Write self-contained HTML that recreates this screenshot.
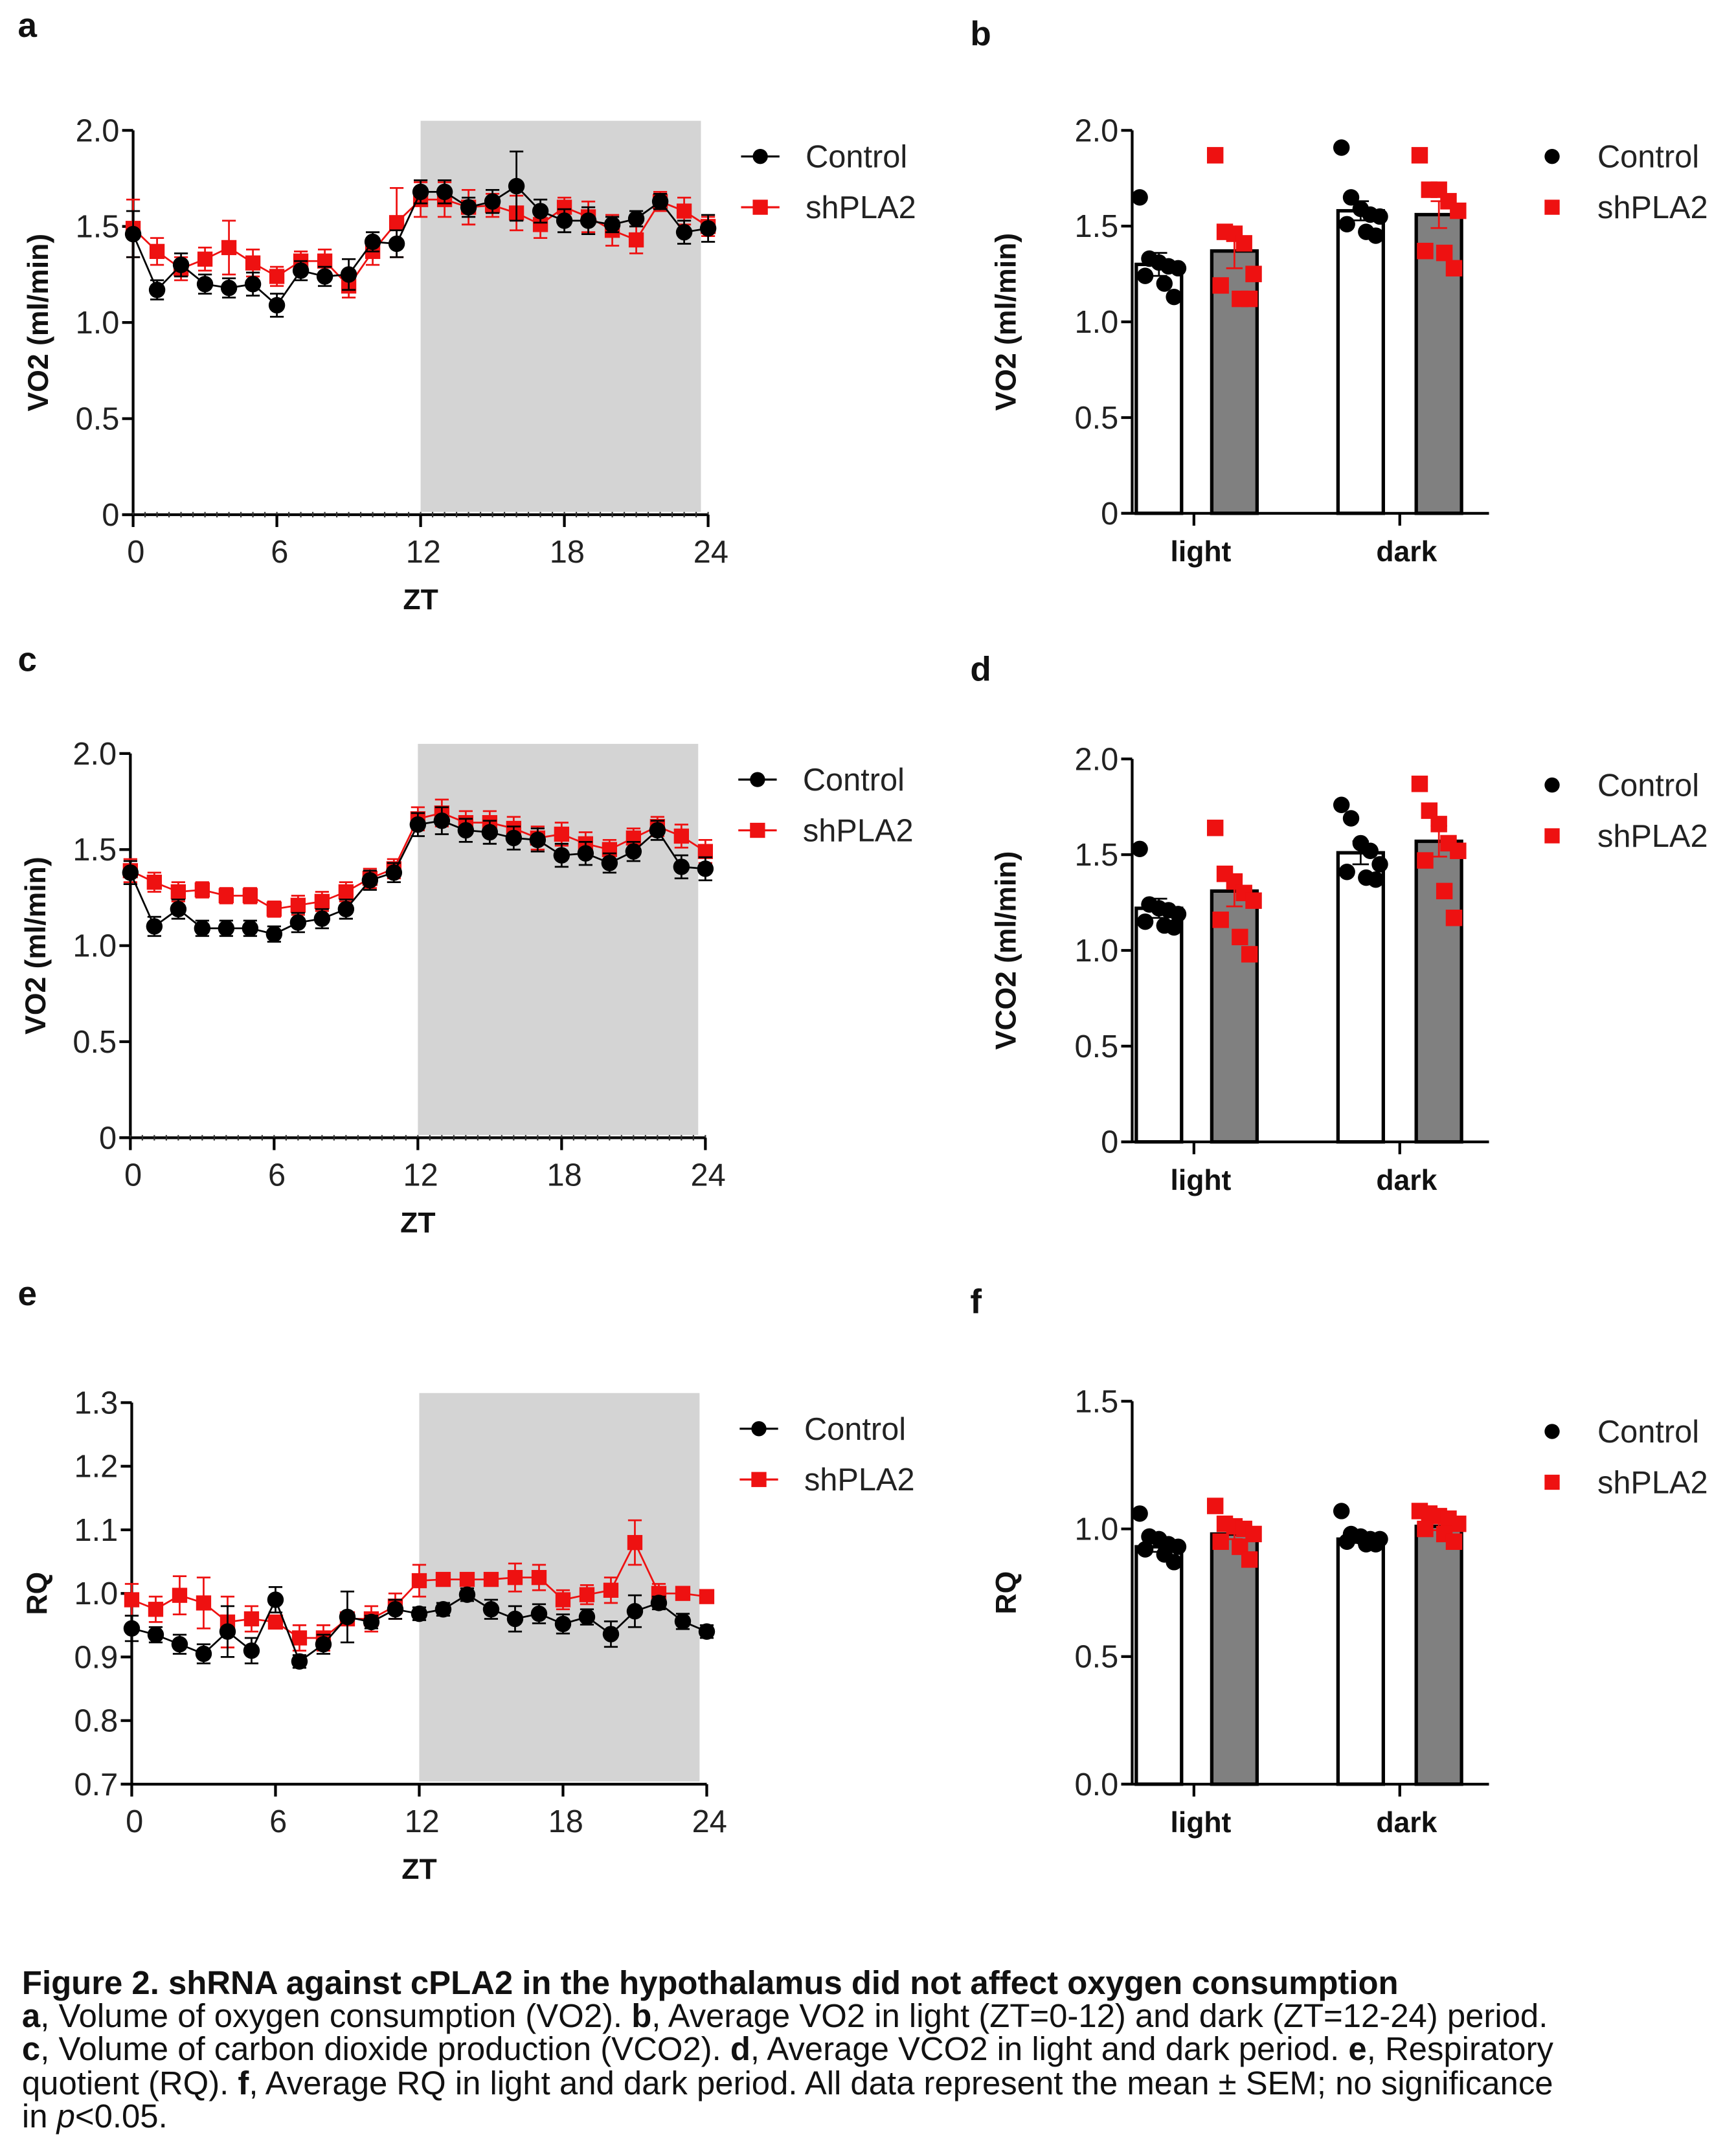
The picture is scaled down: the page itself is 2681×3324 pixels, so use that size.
<!DOCTYPE html>
<html><head><meta charset="utf-8"><style>
html,body{margin:0;padding:0;background:#fff;}
svg{display:block;}
text{font-family:"Liberation Sans",Arial,sans-serif;}
</style></head><body>
<svg id="fig" width="2681" height="3324" viewBox="0 0 1265 1568" preserveAspectRatio="none" xmlns="http://www.w3.org/2000/svg">
<g id="root"></g>
</svg>
<script>
// ---- data ----
const zt = [0,1,2,3,4,5,6,7,8,9,10,11,12,13,14,15,16,17,18,19,20,21,22,23,24];
const aCtrl = [1.46,1.17,1.30,1.20,1.18,1.20,1.09,1.27,1.24,1.25,1.42,1.41,1.68,1.68,1.60,1.63,1.71,1.58,1.53,1.53,1.51,1.54,1.63,1.47,1.49];
const aCtrlErr = [0.12,0.05,0.06,0.05,0.05,0.06,0.06,0.05,0.05,0.08,0.05,0.07,0.06,0.06,0.05,0.06,0.18,0.06,0.06,0.07,0.04,0.04,0.04,0.06,0.07];
const aSh = [1.49,1.37,1.28,1.33,1.39,1.31,1.24,1.32,1.32,1.19,1.37,1.52,1.64,1.64,1.60,1.61,1.57,1.51,1.60,1.55,1.48,1.43,1.63,1.58,1.50];
const aShErr = [0.15,0.07,0.06,0.06,0.14,0.07,0.05,0.05,0.06,0.06,0.07,0.18,0.09,0.09,0.09,0.06,0.09,0.07,0.05,0.08,0.08,0.07,0.05,0.07,0.05];
const cCtrl = [1.38,1.10,1.19,1.09,1.09,1.09,1.06,1.12,1.14,1.19,1.34,1.38,1.63,1.65,1.60,1.59,1.56,1.55,1.47,1.48,1.43,1.49,1.60,1.41,1.40];
const cSh = [1.39,1.33,1.28,1.29,1.26,1.26,1.19,1.21,1.23,1.28,1.35,1.40,1.66,1.69,1.64,1.64,1.61,1.56,1.58,1.53,1.50,1.56,1.62,1.57,1.49];
const cErr = [0.06,0.05,0.05,0.04,0.04,0.04,0.04,0.05,0.05,0.05,0.05,0.05,0.06,0.07,0.06,0.06,0.06,0.06,0.06,0.06,0.05,0.05,0.05,0.06,0.06];
const eCtrl = [0.945,0.935,0.92,0.905,0.94,0.91,0.99,0.893,0.92,0.963,0.955,0.975,0.968,0.975,0.998,0.975,0.96,0.968,0.952,0.963,0.936,0.972,0.985,0.956,0.94];
const eCtrlErr = [0.02,0.012,0.015,0.015,0.04,0.02,0.02,0.01,0.015,0.04,0.01,0.015,0.01,0.01,0.01,0.015,0.02,0.015,0.015,0.012,0.02,0.025,0.01,0.012,0.01];
const eSh = [0.99,0.975,0.997,0.985,0.955,0.96,0.955,0.93,0.93,0.96,0.96,0.98,1.02,1.022,1.022,1.022,1.025,1.025,0.99,0.998,1.005,1.08,1.0,1.0,0.995];
const eShErr = [0.025,0.02,0.03,0.04,0.04,0.02,0.01,0.02,0.02,0.01,0.02,0.02,0.025,0.005,0.005,0.01,0.022,0.02,0.015,0.015,0.02,0.035,0.015,0.01,0.008];
const barCats = ["light","dark"];
const bMeans = [[1.30,1.37],[1.58,1.56]];
const bSem = [[0.06,0.09],[0.05,0.07]];
const bPts = [[[1.65,1.33,1.31,1.29,1.28,1.24,1.20,1.13],[1.87,1.47,1.46,1.41,1.25,1.19,1.12,1.12]],
              [[1.91,1.65,1.59,1.56,1.55,1.51,1.47,1.45],[1.87,1.69,1.69,1.63,1.58,1.37,1.36,1.28]]];
const dMeans = [[1.22,1.31],[1.51,1.57]];
const dSem = [[0.05,0.08],[0.06,0.08]];
const dPts = [[[1.53,1.24,1.22,1.21,1.19,1.15,1.13,1.12],[1.64,1.40,1.36,1.30,1.26,1.16,1.07,0.98]],
              [[1.76,1.69,1.56,1.52,1.45,1.41,1.38,1.37],[1.87,1.73,1.66,1.56,1.52,1.47,1.31,1.17]]];
const fMeans = [[0.93,0.98],[0.96,1.01]];
const fSem = [[0.02,0.02],[0.015,0.015]];
const fPts = [[[1.06,0.97,0.96,0.94,0.93,0.92,0.90,0.87],[1.09,1.02,1.01,1.00,0.98,0.95,0.93,0.88]],
              [[1.07,0.98,0.97,0.96,0.96,0.95,0.94,0.94],[1.07,1.06,1.05,1.04,1.02,1.00,0.98,0.95]]];
const vo2Ticks = [0,0.5,1.0,1.5,2.0];
const vo2TickLabels = ["0","0.5","1.0","1.5","2.0"];
const rqTicks = [0.7,0.8,0.9,1.0,1.1,1.2,1.3];
const rqTickLabels = ["0.7","0.8","0.9","1.0","1.1","1.2","1.3"];
const rqBarTicks = [0,0.5,1.0,1.5];
const rqBarTickLabels = ["0.0","0.5","1.0","1.5"];
const ztTicks = [0,6,12,18,24];

// ---- helpers ----
const NS="http://www.w3.org/2000/svg";
const root=document.getElementById('root');
function el(tag,attrs,parent,txt){const e=document.createElementNS(NS,tag);for(const k in attrs)e.setAttribute(k,attrs[k]);if(txt!==undefined)e.textContent=txt;(parent||root).appendChild(e);return e;}
const RED="#ee1111";

function legend(g,x,y,line){
  const l1=el('g',{},g);
  
  
  if(line) el('line',{x1:x-14,y1:y,x2:x+14,y2:y,stroke:'#000','stroke-width':1.5},l1);
  el('circle',{cx:x,cy:y,r:5.5,fill:'#000'},l1);
  el('text',{x:x+33,y:y+8,'font-size':23,fill:'#222'},l1,'Control');
  const l2=el('g',{},g);
  
  
  if(line) el('line',{x1:x-14,y1:y+37,x2:x+14,y2:y+37,stroke:RED,'stroke-width':1.5},l2);
  el('rect',{x:x-5.5,y:y+37-5.5,width:11,height:11,fill:RED},l2);
  el('text',{x:x+33,y:y+45,'font-size':23,fill:'#222'},l2,'shPLA2');
}

function yAxis(g,ax,yScale,ticks,labels,title,titleX,midY){
  const ya=el('g',{},g);
  
  
  ticks.forEach((t,i)=>{
    const y=yScale(t);
    el('line',{x1:ax-8,y1:y,x2:ax,y2:y,stroke:'#000','stroke-width':2},ya);
    el('text',{x:ax-10,y:y+8,'font-size':23,'text-anchor':'end',fill:'#222'},ya,labels[i]);
  });
  const tt=el('text',{x:titleX,y:midY,'font-size':21,'font-weight':'bold','text-anchor':'middle',transform:`rotate(-90 ${titleX} ${midY})`,fill:'#111'},g,title);
  
  
}

function timePanel(opt){
  const g=el('g',{});
  
  
  const x0=opt.ax, x1=opt.ax+419;
  const xS=v=>x0+(v/24)*(x1-x0);
  const yS=v=>opt.yBot-(v-opt.yMin)/(opt.yMax-opt.yMin)*(opt.yBot-opt.yTop);
  const sh=el('rect',{x:xS(12),y:opt.yTop-7,width:xS(23.7)-xS(12),height:opt.yBot-opt.yTop+5,fill:'#d4d4d4'},g);
  
  
  yAxis(g,x0,yS,opt.ticks,opt.labels,opt.title,opt.ax-62,(opt.yTop+opt.yBot)/2);
  el('line',{x1:x0,y1:opt.yTop,x2:x0,y2:opt.yBot,stroke:'#000','stroke-width':2},g);
  const xa=el('g',{},g);
  
  
  el('line',{x1:x0-8,y1:opt.yBot,x2:x1,y2:opt.yBot,stroke:'#000','stroke-width':2},xa);
  if(opt.dotted){
    for(let h=0;h<=24;h+=0.5) el('line',{x1:xS(h),y1:opt.yBot-2,x2:xS(h),y2:opt.yBot+2,stroke:'#333','stroke-width':1},xa);
  }
  ztTicks.forEach(t=>{
    el('line',{x1:xS(t),y1:opt.yBot,x2:xS(t),y2:opt.yBot+9,stroke:'#000','stroke-width':2},xa);
    el('text',{x:xS(t)+2,y:opt.yBot+35,'font-size':23,'text-anchor':'middle',fill:'#222'},xa,String(t));
  });
  const xt=el('text',{x:xS(12),y:opt.yBot+69,'font-size':21,'font-weight':'bold','text-anchor':'middle',fill:'#111'},g,'ZT');
  
  
  function series(vals,errs,color,marker,name){
    const s=el('g',{},g);
    
    
    el('polyline',{points:zt.map((t,i)=>xS(t)+','+yS(vals[i])).join(' '),fill:'none',stroke:color,'stroke-width':1.3},s);
    zt.forEach((t,i)=>{
      const x=xS(t),y=yS(vals[i]),yu=yS(vals[i]+errs[i]),yd=yS(vals[i]-errs[i]);
      el('line',{x1:x,y1:yu,x2:x,y2:yd,stroke:color,'stroke-width':1.3},s);
      el('line',{x1:x-5,y1:yu,x2:x+5,y2:yu,stroke:color,'stroke-width':1.3},s);
      el('line',{x1:x-5,y1:yd,x2:x+5,y2:yd,stroke:color,'stroke-width':1.3},s);
      if(marker==='c') el('circle',{cx:x,cy:y,r:6,fill:color},s);
      else el('rect',{x:x-5.5,y:y-5.5,width:11,height:11,fill:color},s);
    });
  }
  series(opt.sh,opt.shErr,RED,'s','series-shpla2');
  series(opt.ctrl,opt.ctrlErr,'#000','c','series-control');
  legend(g,opt.ax+457,opt.legY,true);
}

function barPanel(opt){
  const g=el('g',{});
  
  
  const ax=825;
  const yS=v=>opt.yBot-(v-opt.yMin)/(opt.yMax-opt.yMin)*(opt.yBot-opt.yTop);
  yAxis(g,ax,yS,opt.ticks,opt.labels,opt.title,ax-85,(opt.yTop+opt.yBot)/2);
  el('line',{x1:ax,y1:opt.yTop,x2:ax,y2:opt.yBot,stroke:'#000','stroke-width':2},g);
  const barL=[[828,883],[975,1032]], bw=33;
  const jit=[-14,-7,0,7,14,-10,4,11];
  barCats.forEach((c,ci)=>{
    [0,1].forEach(s=>{
      const x=barL[ci][s], m=opt.means[ci][s];
      const b=el('rect',{x:x,y:yS(m),width:bw,height:opt.yBot-yS(m),fill:s?'#808080':'#fff',stroke:'#000','stroke-width':2.5},g);
      
      
      const cx=x+bw/2, col=s?RED:'#000';
      el('line',{x1:cx,y1:yS(m+opt.sem[ci][s]),x2:cx,y2:yS(m-opt.sem[ci][s]),stroke:col,'stroke-width':1.3},g);
      el('line',{x1:cx-6,y1:yS(m+opt.sem[ci][s]),x2:cx+6,y2:yS(m+opt.sem[ci][s]),stroke:col,'stroke-width':1.3},g);
      el('line',{x1:cx-6,y1:yS(m-opt.sem[ci][s]),x2:cx+6,y2:yS(m-opt.sem[ci][s]),stroke:col,'stroke-width':1.3},g);
      opt.pts[ci][s].forEach((v,k)=>{
        const px=cx+jit[k];
        if(s) el('rect',{x:px-6,y:yS(v)-6,width:12,height:12,fill:RED},g);
        else el('circle',{cx:px,cy:yS(v),r:6,fill:'#000'},g);
      });
    });
  });
  const xa=el('g',{},g);
  
  
  el('line',{x1:ax-8,y1:opt.yBot,x2:1085,y2:opt.yBot,stroke:'#000','stroke-width':2},xa);
  [870,1020].forEach((x,i)=>{
    el('line',{x1:x,y1:opt.yBot,x2:x,y2:opt.yBot+9,stroke:'#000','stroke-width':2},xa);
    el('text',{x:x+5,y:opt.yBot+35,'font-size':21,'font-weight':'bold','text-anchor':'middle',fill:'#111'},xa,barCats[i]);
  });
  legend(g,1131,opt.legY,false);
}

function letter(t,x,y){const e=el('text',{x:x,y:y,'font-size':25,'font-weight':'bold',fill:'#111'},root,t);
  
  }
letter('a',13,27);letter('b',707,33);letter('c',13,489);letter('d',707,496);letter('e',13,951);letter('f',707,957);

timePanel({name:'panel-a-vo2-timecourse',ax:97,yTop:95,yBot:375,yMin:0,yMax:2,ticks:vo2Ticks,labels:vo2TickLabels,title:'VO2 (ml/min)',ctrl:aCtrl,ctrlErr:aCtrlErr,sh:aSh,shErr:aShErr,legY:114,dotted:true});
timePanel({name:'panel-c-vco2-timecourse',ax:95,yTop:549,yBot:829,yMin:0,yMax:2,ticks:vo2Ticks,labels:vo2TickLabels,title:'VO2 (ml/min)',ctrl:cCtrl,ctrlErr:cErr,sh:cSh,shErr:cErr,legY:568,dotted:true});
timePanel({name:'panel-e-rq-timecourse',ax:96,yTop:1022,yBot:1300,yMin:0.7,yMax:1.3,ticks:rqTicks,labels:rqTickLabels,title:'RQ',ctrl:eCtrl,ctrlErr:eCtrlErr,sh:eSh,shErr:eShErr,legY:1041,dotted:false});
barPanel({name:'panel-b-vo2-bars',yTop:95,yBot:374,yMin:0,yMax:2,ticks:vo2Ticks,labels:vo2TickLabels,title:'VO2 (ml/min)',means:bMeans,sem:bSem,pts:bPts,legY:114});
barPanel({name:'panel-d-vco2-bars',yTop:553,yBot:832,yMin:0,yMax:2,ticks:vo2Ticks,labels:vo2TickLabels,title:'VCO2 (ml/min)',means:dMeans,sem:dSem,pts:dPts,legY:572});
barPanel({name:'panel-f-rq-bars',yTop:1021,yBot:1300,yMin:0,yMax:1.5,ticks:rqBarTicks,labels:rqBarTickLabels,title:'RQ',means:fMeans,sem:fSem,pts:fPts,legY:1043});

// caption
const cap=el('g',{});


const lines=[
 [['b','Figure 2. shRNA against cPLA2 in the hypothalamus did not affect oxygen consumption']],
 [['b','a'],['n',', Volume of oxygen consumption (VO2). '],['b','b'],['n',', Average VO2 in light (ZT=0-12) and dark (ZT=12-24) period.']],
 [['b','c'],['n',', Volume of carbon dioxide production (VCO2). '],['b','d'],['n',', Average VCO2 in light and dark period. '],['b','e'],['n',', Respiratory']],
 [['n','quotient (RQ). '],['b','f'],['n',', Average RQ in light and dark period. All data represent the mean ± SEM; no significance']],
 [['n','in '],['i','p'],['n','<0.05.']]
];
const ys=[1453,1477,1501,1526,1550];
lines.forEach((ln,i)=>{
  const t=el('text',{x:16,y:ys[i],'font-size':24,fill:'#111'},cap);
  ln.forEach(([s,txt])=>{
    const sp=el('tspan',{},t,txt);
    if(s==='b') sp.setAttribute('font-weight','bold');
    if(s==='i') sp.setAttribute('font-style','italic');
  });
});
</script>
</body></html>
